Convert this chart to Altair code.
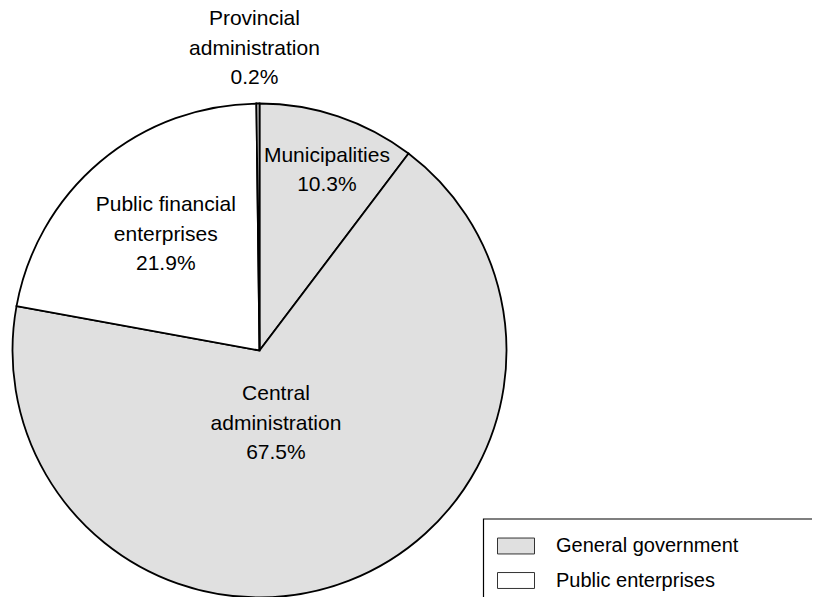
import altair as alt
import pandas as pd

# ---- data ----
segments = ["Municipalities", "Central administration",
            "Public financial enterprises", "Provincial administration"]
label_lines = ["Municipalities", "Central\nadministration",
               "Public financial\nenterprises", "Provincial\nadministration"]
shares = [10.3, 67.5, 21.9, 0.2]
groups = ["General government", "General government",
          "Public enterprises", "General government"]
legend_items = ["General government", "Public enterprises"]
legend_colors = ["#e0e0e0", "#ffffff"]

df = pd.DataFrame({
    "idx": list(range(len(segments))),
    "segment": segments,
    "share": shares,
    "group": groups,
    "text": [f"{n}\n{v:.1f}%" for n, v in zip(label_lines, shares)],
})

# ---- layout / style ----
FONT = "Liberation Sans"
W, H = 804, 589
CX, CY, R = 251.5, 342.5, 247
LH = 29.5
# label placement: (distance from centre, angular nudge in degrees)
placement = {
    "Municipalities": (192, 2.0),
    "Central administration": (75, 8.6),
    "Public financial enterprises": (149, 1.2),
    "Provincial administration": (302, -0.6),
}


def lookup(i):
    expr = "0"
    for k, v in placement.items():
        expr = f"datum.segment === '{k}' ? {v[i]} : ({expr})"
    return expr


color = alt.Color(
    "group:N",
    scale=alt.Scale(domain=legend_items, range=legend_colors),
    legend=alt.Legend(
        title=None, orient="none", legendX=489, legendY=519,
        symbolType="M-1,-0.43L1,-0.43L1,0.43L-1,0.43Z", symbolSize=1369,
        symbolStrokeColor="#333333", symbolStrokeWidth=1,
        labelFont=FONT, labelFontSize=20, labelColor="#000000",
        labelOffset=21, rowPadding=5.5, padding=0, labelLimit=400,
    ),
)

pie = alt.Chart(df).mark_arc(
    radius=R, stroke="black", strokeWidth=1.8
).encode(
    theta=alt.Theta("share:Q", stack=True),
    color=color,
    order=alt.Order("idx:Q"),
    x=alt.value(CX),
    y=alt.value(CY),
)

labels = alt.Chart(df).transform_joinaggregate(
    total="sum(share)"
).transform_window(
    cum="sum(share)", sort=[alt.SortField("idx")], frame=[None, 0]
).transform_calculate(
    ang=f"(datum.cum - datum.share / 2) / datum.total * 2 * PI + ({lookup(1)}) * PI / 180",
    rad=lookup(0),
    nl="length(split(datum.text, '\\n'))",
).transform_calculate(
    lx=f"{CX} + datum.rad * sin(datum.ang)",
    ly=f"{CY} - datum.rad * cos(datum.ang) - (datum.nl - 1) / 2 * {LH}",
).mark_text(
    font=FONT, fontSize=21, lineHeight=LH, lineBreak="\n",
    align="center", baseline="middle", color="#000000",
).encode(
    x=alt.X("lx:Q", scale=None, axis=None),
    y=alt.Y("ly:Q", scale=None, axis=None),
    text="text:N",
)

box = alt.Chart(pd.DataFrame({"k": [0]})).mark_rect(
    filled=False, stroke="black", strokeWidth=1.2
).encode(
    x=alt.value(475.5), x2=alt.value(840),
    y=alt.value(511), y2=alt.value(640),
)

chart = alt.layer(box, pie, labels).properties(
    width=W, height=H, padding=0,
    autosize=alt.AutoSizeParams(type="none"),
).configure_view(stroke=None)

chart.save("out.html", embed_options={"renderer": "svg", "actions": False})
